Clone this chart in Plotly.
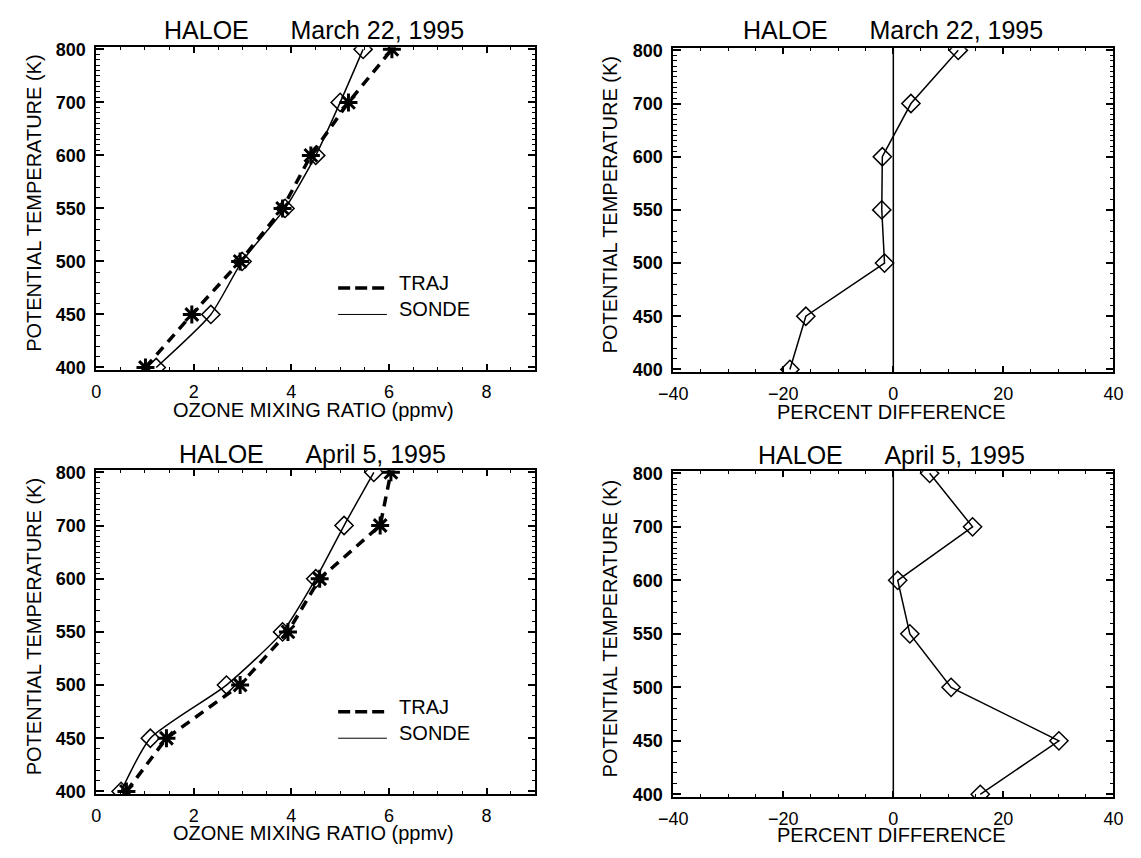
import numpy as np
import plotly.graph_objects as go

# ---------------- data ----------------
theta_levels = [400, 450, 500, 550, 600, 700, 800]          # potential temperature (K)
tick_labels = ["400", "450", "500", "550", "600", "700", "800"]

mar_sonde = [1.23, 2.35, 2.99, 3.87, 4.50, 5.00, 5.47]       # ppmv, March 22 1995
mar_traj = [1.01, 1.96, 2.95, 3.82, 4.40, 5.17, 6.06]
mar_diff = [-18.8, -15.9, -1.6, -2.1, -2.0, 3.2, 11.8]       # percent

apr_sonde = [0.51, 1.11, 2.67, 3.82, 4.50, 5.08, 5.69]       # ppmv, April 5 1995
apr_traj = [0.62, 1.44, 2.95, 3.93, 4.58, 5.82, 6.04]
apr_diff = [15.8, 30.1, 10.5, 3.0, 0.8, 14.4, 6.6]

# the vertical axis is drawn with equally spaced labelled levels
level_index = list(range(len(theta_levels)))


def theta_scale(t):
    return np.interp(t, theta_levels, level_index)


y_pos = theta_scale(theta_levels)
minor_theta = [t for t in range(400, 801, 10) if t not in theta_levels]
minor_pos = list(theta_scale(minor_theta))

FONT = "Liberation Sans, Arial, Helvetica, sans-serif"
BLACK = "black"

fig = go.Figure()

sonde_style = dict(mode="lines+markers", line=dict(color=BLACK, width=1.5, shape="spline", smoothing=0.6),
                   marker=dict(symbol="diamond-open", size=14, color=BLACK, line=dict(width=1.5, color=BLACK)),
                   showlegend=False, cliponaxis=True)
traj_style = dict(mode="lines+markers", line=dict(color=BLACK, width=3.5, dash="10px,7px"),
                  marker=dict(symbol="asterisk-open", size=15, color=BLACK, line=dict(width=3, color=BLACK)),
                  showlegend=False, cliponaxis=True)
diff_style = dict(mode="lines+markers", line=dict(color=BLACK, width=1.5),
                  marker=dict(symbol="diamond-open", size=14, color=BLACK, line=dict(width=1.5, color=BLACK)),
                  showlegend=False, cliponaxis=True)

# panel 1: March profiles
fig.add_trace(go.Scatter(x=mar_traj, y=y_pos, name="TRAJ", xaxis="x", yaxis="y", **traj_style))
fig.add_trace(go.Scatter(x=mar_sonde, y=y_pos, name="SONDE", xaxis="x", yaxis="y", **sonde_style))
# panel 2: March difference
fig.add_trace(go.Scatter(x=mar_diff, y=y_pos, name="diff", xaxis="x2", yaxis="y2", **diff_style))
# panel 3: April profiles
fig.add_trace(go.Scatter(x=apr_traj, y=y_pos, name="TRAJ", xaxis="x3", yaxis="y3", **traj_style))
fig.add_trace(go.Scatter(x=apr_sonde, y=y_pos, name="SONDE", xaxis="x3", yaxis="y3", **sonde_style))
# panel 4: April difference
fig.add_trace(go.Scatter(x=apr_diff, y=y_pos, name="diff", xaxis="x4", yaxis="y4", **diff_style))

W, H = 1141, 858


def px_x(p):
    return p / W


def px_y(p):
    return 1 - p / H


xtickfont = dict(family=FONT, size=18, color=BLACK)
ytickfont = dict(family=FONT, size=18, color=BLACK, weight="bold")


def xaxis(domain, anchor, rng, dtick, minor_dtick):
    return dict(domain=domain, anchor=anchor, range=rng, dtick=dtick, tick0=0,
                ticks="inside", ticklen=6, tickwidth=1.5, tickcolor=BLACK,
                showline=True, linewidth=1.5, linecolor=BLACK, mirror="ticks",
                showgrid=False, zeroline=False, tickfont=xtickfont, ticklabelstandoff=5,
                minor=dict(dtick=minor_dtick, tick0=0, ticks="inside", ticklen=3, tickwidth=1, tickcolor=BLACK))


def yaxis(domain, anchor):
    return dict(domain=domain, anchor=anchor, range=[-0.05, 6.04], tickmode="array",
                tickvals=level_index, ticktext=tick_labels,
                ticks="inside", ticklen=8, tickwidth=1.5, tickcolor=BLACK,
                showline=True, linewidth=1.5, linecolor=BLACK, mirror="ticks",
                showgrid=False, zeroline=False, tickfont=ytickfont, ticklabelstandoff=5,
                minor=dict(tickmode="array", tickvals=minor_pos, ticks="inside", ticklen=4,
                           tickwidth=1, tickcolor=BLACK))


left_dom = [px_x(83), px_x(532)]
right_dom = [px_x(673), px_x(1123)]
top_dom_l = [px_y(369), px_y(40)]
top_dom_r = [px_y(371), px_y(41)]
bot_dom_l = [px_y(801), px_y(471)]
bot_dom_r = [px_y(804), px_y(472)]

fig.update_layout(
    width=W, height=H, margin=dict(l=0, r=0, t=0, b=0),
    paper_bgcolor="white", plot_bgcolor="white",
    font=dict(family=FONT, color=BLACK),
    xaxis=xaxis(left_dom, "y", [0, 9], 2, 0.5),
    yaxis=yaxis(top_dom_l, "x"),
    xaxis2=xaxis(right_dom, "y2", [-40, 40], 20, 5),
    yaxis2=yaxis(top_dom_r, "x2"),
    xaxis3=xaxis(left_dom, "y3", [0, 9], 2, 0.5),
    yaxis3=yaxis(bot_dom_l, "x3"),
    xaxis4=xaxis(right_dom, "y4", [-40, 40], 20, 5),
    yaxis4=yaxis(bot_dom_r, "x4"),
)

# zero reference lines in the difference panels
for xr, yr in (("x2", "y2 domain"), ("x4", "y4 domain")):
    fig.add_shape(type="line", xref=xr, yref=yr, x0=0, x1=0, y0=0, y1=1,
                  line=dict(color=BLACK, width=1.5), layer="below")

# legends in the profile panels
for xr, yr in (("x domain", "y domain"), ("x3 domain", "y3 domain")):
    fig.add_shape(type="line", xref=xr, yref=yr, x0=0.551, x1=0.662, y0=0.2545, y1=0.2545,
                  line=dict(color=BLACK, width=3.5, dash="12px,5px"))
    fig.add_shape(type="line", xref=xr, yref=yr, x0=0.551, x1=0.662, y0=0.1724, y1=0.1724,
                  line=dict(color=BLACK, width=1))
    fig.add_annotation(xref=xr, yref=yr, x=0.686, y=0.27, text="TRAJ", showarrow=False,
                       xanchor="left", yanchor="middle", font=dict(family=FONT, size=20, color=BLACK))
    fig.add_annotation(xref=xr, yref=yr, x=0.686, y=0.188, text="SONDE", showarrow=False,
                       xanchor="left", yanchor="middle", font=dict(family=FONT, size=20, color=BLACK))

sp = "\u00a0" * 6
titles = [
    ("HALOE" + sp + "March 22, 1995", 306 / W, px_y(22.5)),
    ("HALOE" + sp + "March 22, 1995", 898 / W, px_y(22.5)),
    ("HALOE" + sp + "April 5, 1995", 304 / W, px_y(454)),
    ("HALOE" + sp + "April 5, 1995", 896 / W, px_y(455)),
]
for text, x, y in titles:
    fig.add_annotation(xref="paper", yref="paper", x=x, y=y, text=text, showarrow=False,
                       xanchor="center", yanchor="middle", font=dict(family=FONT, size=25, color=BLACK))

xtitles = [
    ("OZONE MIXING RATIO (ppmv)", 305 / W, px_y(410)),
    ("PERCENT DIFFERENCE", 896.5 / W, px_y(412)),
    ("OZONE MIXING RATIO (ppmv)", 305 / W, px_y(841)),
    ("PERCENT DIFFERENCE", 896.5 / W, px_y(843)),
]
for text, x, y in xtitles:
    fig.add_annotation(xref="paper", yref="paper", x=x, y=y, text=text, showarrow=False,
                       xanchor="center", yanchor="middle", font=dict(family=FONT, size=20, color=BLACK))

ytitles = [
    (20 / W, px_y(199)),
    (608 / W, px_y(200.5)),
    (19 / W, px_y(630.5)),
    (608 / W, px_y(632.5)),
]
for x, y in ytitles:
    fig.add_annotation(xref="paper", yref="paper", x=x, y=y, text="POTENTIAL TEMPERATURE (K)",
                       showarrow=False, textangle=-90, xanchor="center", yanchor="middle",
                       font=dict(family=FONT, size=20, color=BLACK))

fig.write_html("out.html")
